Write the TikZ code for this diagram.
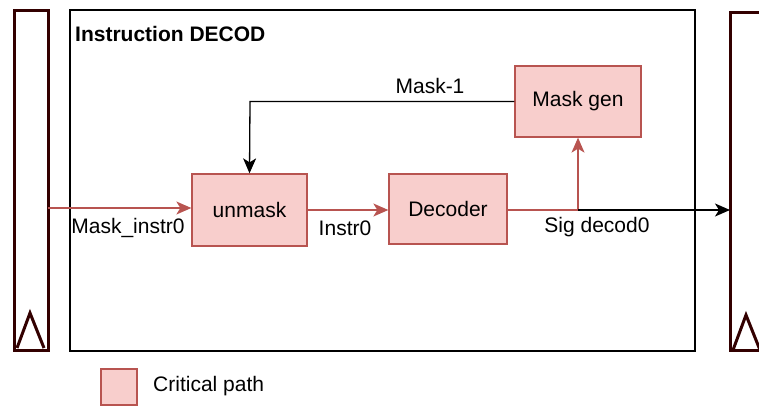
\documentclass[tikz,border=0pt]{standalone}
\usepackage{fontspec}
\setmainfont{Liberation Sans}
\usetikzlibrary{arrows.meta}
\definecolor{critfill}{HTML}{F8CECC}
\definecolor{critdraw}{HTML}{B85450}
\definecolor{regcol}{HTML}{330000}
\begin{document}
\begin{tikzpicture}[x=1pt,y=-1pt,
  crit/.style={draw=critdraw,fill=critfill,line width=1.3pt,inner sep=0pt},
  reg/.style={draw=regcol,line width=3pt},
  lbl/.style={font=\fontsize{21}{24}\selectfont,inner sep=0pt},
  tip/.style={-{Stealth[length=15pt,width=13pt,inset=4pt]}},
  redln/.style={draw=critdraw,line width=1.3pt},
  blkln/.style={draw=black,line width=1.3pt}]
\useasboundingbox (0,0) rectangle (759,406);
\begin{scope}
\clip (0,0) rectangle (759,406);
% registers
\draw[reg] (14,11) rectangle (48,350);
\draw[reg] (17,348) -- (30,313) -- (44,348);
\draw[reg] (730,13) rectangle (775,350);
\draw[reg] (733,350) -- (746,315) -- (760,350);
\end{scope}
\coordinate (lreg) at (48,208);
\coordinate (rreg) at (730,210);
% main box
\draw[line width=1.2pt] (70,10) rectangle (695,351);
\node[anchor=west,font=\bfseries\fontsize{21}{24}\selectfont,inner sep=0pt] (title) at (75,34) {Instruction DECOD};
% blocks
\node[crit,lbl,minimum width=115pt,minimum height=72pt] (unmask) at (249.5,210) {unmask};
\node[crit,lbl,minimum width=118pt,minimum height=70pt] (decoder) at (448,209) {Decoder};
\node[crit,lbl,minimum width=126pt,minimum height=71pt] (maskgen) at (578,101.5) {Mask gen};
% connectors
\draw[redln,tip,critdraw] (lreg) -- (unmask.west |- lreg);
\node[lbl] (lmi) at (128,228) {Mask\_instr0};
\draw[redln,tip,critdraw] (unmask.east |- 0,210) -- (decoder.west |- 0,210);
\node[lbl] (li0) at (345,228) {Instr0};
\coordinate (split) at (578,210);
\draw[redln] (decoder.east |- split) -- (split);
\draw[redln,tip,critdraw] (split) -- (maskgen.south);
\draw[blkln,tip] (split) -- (rreg);
\node[lbl] (lsd) at (597,227) {Sig decod0};
\draw[blkln,tip] (maskgen.west) -- (250,101.5) -- (unmask.north);
\node[lbl] (lm1) at (430,86) {Mask-1};
% legend
\node[crit,minimum width=36pt,minimum height=36pt] (leg) at (119,387) {};
\node[lbl,anchor=west] (legt) at (153,386) {Critical path};
\end{tikzpicture}
\end{document}
